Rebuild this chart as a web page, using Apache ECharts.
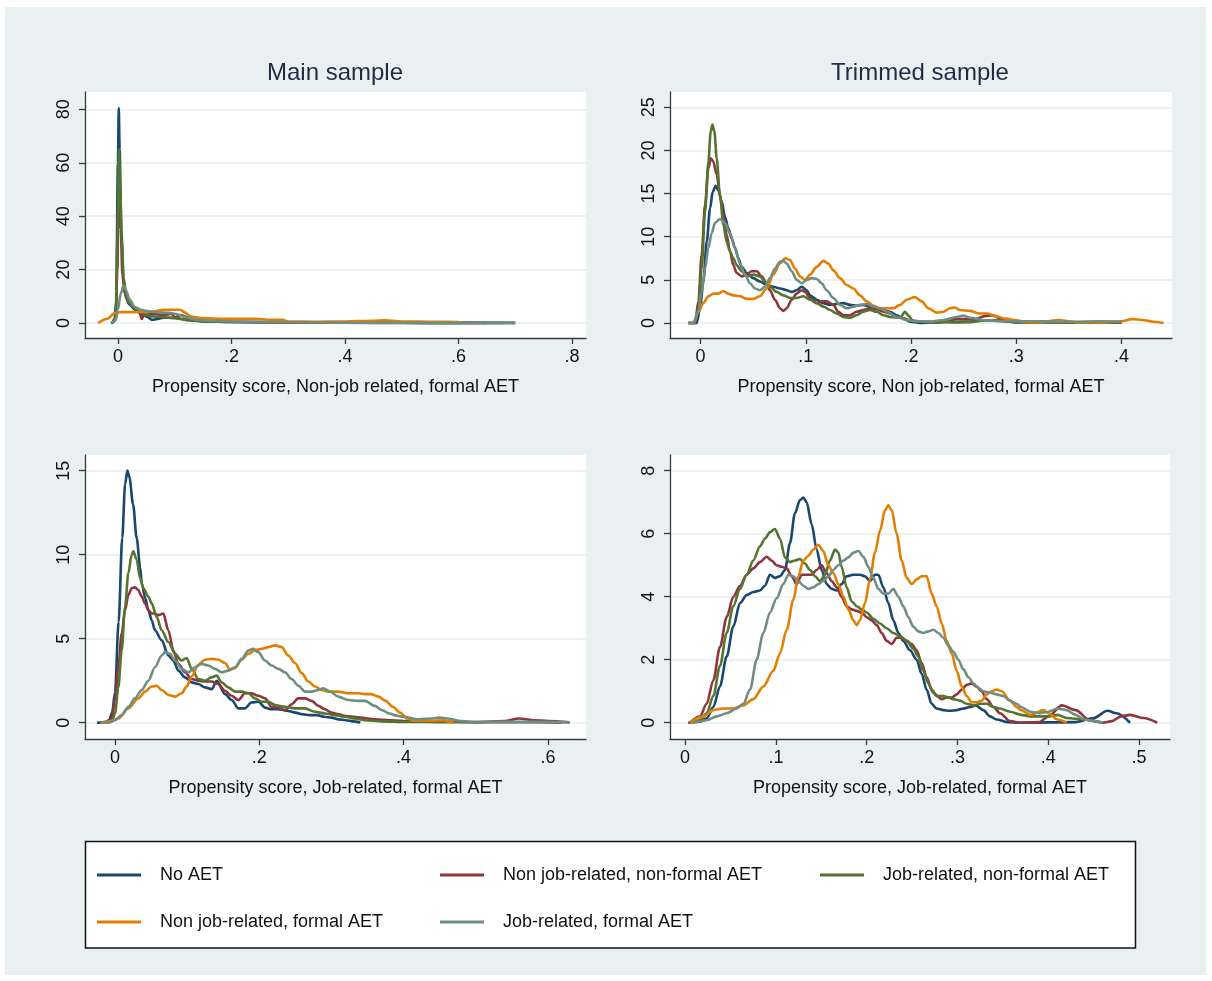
<!DOCTYPE html>
<html><head><meta charset="utf-8">
<script src="https://cdn.jsdelivr.net/npm/echarts@6/dist/echarts.min.js"></script>
<style>
html,body{margin:0;padding:0;background:#fff}
#bg{position:absolute;left:5px;top:7px;width:1201px;height:968px;background:#e9f0f2}
#c{position:absolute;left:0;top:0;width:1212px;height:981px}
</style>
</head><body><div id="bg"></div><div id="c"></div><script>
const seriesNames = ['No AET','Non job-related, non-formal AET','Job-related, non-formal AET','Non job-related, formal AET','Job-related, formal AET'];
const seriesColors = ['#1a476f','#90353b','#55752f','#e37e00','#6e8e84'];
const panelTitles = ['Main sample','Trimmed sample'];
const xAxisTitles = ['Propensity score, Non-job related, formal AET','Propensity score, Non job-related, formal AET','Propensity score, Job-related, formal AET','Propensity score, Job-related, formal AET'];
const xTicks = [[0,0.2,0.4,0.6,0.8],[0,0.1,0.2,0.3,0.4],[0,0.2,0.4,0.6],[0,0.1,0.2,0.3,0.4,0.5]];
const yTicks = [[0,20,40,60,80],[0,5,10,15,20,25],[0,5,10,15],[0,2,4,6,8]];
const xRanges = [[-0.058,0.8247],[-0.0291,0.4481],[-0.0416,0.6528],[-0.0166,0.534]];
const yRanges = [[-5.6,86.5],[-1.74,26.77],[-0.97,15.93],[-0.517,8.5]];

// Panel 1: Main sample, non-job related formal AET
const tlNoAET = [[-0.012,0],[-0.006,0.5],[-0.003,8],[0,60],[0.0015,80.5],[0.003,65],[0.006,35],[0.01,15],[0.015,9],[0.02,7],[0.03,5],[0.04,3.5],[0.05,2.5],[0.06,1.2],[0.07,1.5],[0.08,2],[0.1,2],[0.12,1.2],[0.15,0.6],[0.2,0.4],[0.3,0.2],[0.4,0.1],[0.5,0.05],[0.6,0.05],[0.7,0.05]];
const tlNonJobNonFormal = [[-0.01,0],[-0.004,2],[-0.001,20],[0.001,45],[0.003,48],[0.005,35],[0.008,18],[0.012,11],[0.02,7.5],[0.03,5.5],[0.038,4],[0.042,1.5],[0.046,3],[0.06,3.5],[0.08,3],[0.095,3.5],[0.1,2],[0.11,3],[0.13,1.5],[0.15,0.8],[0.2,0.4],[0.3,0.2],[0.4,0.1],[0.5,0.1],[0.6,0.05],[0.65,0]];
const tlJobNonFormal = [[-0.01,0],[-0.004,2],[-0.001,30],[0.002,65],[0.004,50],[0.007,30],[0.01,17],[0.015,10],[0.02,7.5],[0.03,5.5],[0.04,4],[0.05,3],[0.06,2.5],[0.08,2.2],[0.1,1.8],[0.12,1.2],[0.15,0.7],[0.2,0.5],[0.3,0.3],[0.4,0.15],[0.5,0.1],[0.6,0.05],[0.68,0]];
const tlNonJobFormal = [[-0.035,0],[-0.02,1.5],[-0.005,3.7],[0.004,4.1],[0.03,4.1],[0.06,4.2],[0.08,5],[0.11,5],[0.117,4],[0.129,2.4],[0.147,1.9],[0.18,1.6],[0.24,1.6],[0.27,1.2],[0.29,1.2],[0.3,0.6],[0.35,0.5],[0.4,0.6],[0.45,0.8],[0.47,1.0],[0.5,0.6],[0.55,0.5],[0.6,0.4],[0.61,0]];
const tlJobFormal = [[-0.01,0],[-0.004,1],[0,5],[0.005,11],[0.01,14],[0.015,12],[0.02,9],[0.03,6],[0.04,5],[0.05,4.5],[0.07,4],[0.09,3.8],[0.1,3.5],[0.12,2.2],[0.14,1.2],[0.17,0.8],[0.2,0.6],[0.3,0.3],[0.4,0.15],[0.5,0.1],[0.6,0.1],[0.7,0.05]];

// Panel 2: Trimmed sample, non-job related formal AET
const trNoAET = [[-0.012,0],[-0.0037,0],[-0.0005,1.7],[0.0026,4.8],[0.0058,9.4],[0.009,13.3],[0.0115,15.2],[0.0143,15.9],[0.0168,15.4],[0.02,14.1],[0.0232,12.3],[0.0263,11.0],[0.0295,9.8],[0.0327,8.7],[0.0359,7.5],[0.039,6.5],[0.0438,5.8],[0.0501,5.2],[0.0564,4.8],[0.0628,4.4],[0.0691,4.2],[0.0755,4.0],[0.0818,3.8],[0.0866,3.6],[0.0913,3.8],[0.0961,4.2],[0.1008,3.8],[0.104,3.2],[0.1103,2.7],[0.1167,2.3],[0.123,2.1],[0.1293,2.2],[0.1357,2.3],[0.142,2.1],[0.1483,2.0],[0.1547,2.1],[0.161,1.9],[0.1674,1.7],[0.1737,1.5],[0.18,1.3],[0.1864,0.9],[0.1927,0.55],[0.199,0.15],[0.2086,0.0],[0.2181,0.05],[0.2308,0.15],[0.2434,0.1],[0.2561,0.15],[0.27,0.3],[0.28,0.3],[0.3,0.1],[0.32,0.2],[0.35,0.05],[0.4,0.02]];
const trNonJobNonFormal = [[-0.012,0],[-0.0053,0],[-0.0021,2.5],[0.001,7.9],[0.0042,13.7],[0.0074,17.9],[0.0096,19.1],[0.0121,18.7],[0.0153,17.2],[0.0184,14.8],[0.0216,12.5],[0.0248,10.2],[0.0279,8.3],[0.0311,6.7],[0.0343,5.8],[0.039,5.4],[0.0438,5.6],[0.0485,6.0],[0.0533,6.0],[0.058,5.4],[0.0628,4.6],[0.0659,3.8],[0.0707,2.7],[0.0755,1.7],[0.0786,1.4],[0.0818,1.7],[0.0866,2.7],[0.0913,3.4],[0.0961,3.8],[0.0992,3.6],[0.104,2.9],[0.1103,2.3],[0.115,2.5],[0.1198,2.5],[0.1262,2.1],[0.1309,1.3],[0.1357,0.9],[0.142,0.9],[0.1483,1.3],[0.1547,1.5],[0.161,1.7],[0.1674,1.6],[0.1737,1.3],[0.18,1.1],[0.1864,0.7],[0.1927,0.55],[0.199,0.3],[0.2118,0.15],[0.2244,0.05],[0.2339,0.15],[0.2434,0.45],[0.2497,0.45],[0.26,0.4],[0.27,0.8],[0.278,0.9],[0.285,0.5],[0.3,0.1],[0.32,0.05],[0.35,0.05],[0.4,0.02]];
const trJobNonFormal = [[-0.01,0],[-0.0053,0],[-0.002,1.7],[0.001,6.3],[0.0042,12.9],[0.0074,18.7],[0.0096,22.2],[0.0112,23.0],[0.0131,22.2],[0.0153,19.1],[0.0184,14.8],[0.0216,11.4],[0.0248,9.4],[0.0279,8.3],[0.0311,7.5],[0.0343,6.7],[0.039,6.0],[0.0438,5.4],[0.0501,5.6],[0.0564,5.4],[0.0612,4.8],[0.0659,4.2],[0.0723,3.6],[0.0786,3.2],[0.085,2.9],[0.0913,2.9],[0.0976,3.1],[0.104,2.7],[0.1103,2.3],[0.1167,1.9],[0.123,1.5],[0.1293,1.1],[0.1357,0.7],[0.142,0.6],[0.1483,0.9],[0.1547,1.3],[0.161,1.5],[0.1674,1.3],[0.1737,0.9],[0.18,0.7],[0.1896,0.6],[0.1943,1.3],[0.1975,0.85],[0.2023,0.2],[0.2118,0.15],[0.2244,0.1],[0.24,0.1],[0.256,0.1],[0.27,0.3],[0.28,0.3],[0.3,0.1],[0.35,0.05],[0.4,0.05]];
const trNonJobFormal = [[-0.012,0],[-0.0069,0],[-0.002,1.3],[0.0026,2.3],[0.0074,3.1],[0.0121,3.4],[0.0168,3.4],[0.0216,3.7],[0.0263,3.4],[0.0311,3.2],[0.0374,3.1],[0.0438,2.8],[0.0501,2.8],[0.0564,3.1],[0.0628,4.0],[0.0691,5.6],[0.0755,6.9],[0.0802,7.5],[0.085,7.3],[0.0897,6.3],[0.0945,5.4],[0.0992,5.0],[0.104,5.6],[0.1103,6.5],[0.1167,7.2],[0.1214,6.9],[0.1262,6.1],[0.1325,5.2],[0.1389,4.4],[0.1452,4.0],[0.1515,3.2],[0.1579,2.5],[0.1642,2.0],[0.1706,1.7],[0.1769,1.7],[0.1832,1.7],[0.1896,2.1],[0.1959,2.7],[0.2038,3.0],[0.2102,2.5],[0.2165,1.7],[0.2244,1.2],[0.2308,1.3],[0.2371,1.7],[0.2418,1.8],[0.2466,1.5],[0.2561,1.4],[0.265,1.1],[0.272,1.1],[0.28,0.8],[0.29,0.5],[0.3,0.3],[0.31,0.1],[0.32,0.05],[0.33,0.2],[0.34,0.35],[0.35,0.2],[0.36,0.05],[0.38,0.05],[0.4,0.2],[0.41,0.45],[0.42,0.35],[0.43,0.15],[0.44,0]];
const trJobFormal = [[-0.012,0],[-0.0069,0],[-0.0021,1.3],[0.001,3.6],[0.0042,6.3],[0.0074,8.7],[0.0105,10.4],[0.0137,11.6],[0.0184,12.06],[0.0232,11.6],[0.0279,10.4],[0.0327,8.7],[0.0374,6.9],[0.0422,5.6],[0.0469,4.6],[0.0517,4.0],[0.0564,3.8],[0.0612,4.2],[0.0659,5.2],[0.0707,6.3],[0.0755,7.1],[0.0786,7.2],[0.0818,6.9],[0.0866,6.0],[0.0913,5.0],[0.0961,4.6],[0.1008,5.0],[0.1056,5.2],[0.1103,5.1],[0.115,4.6],[0.1198,3.8],[0.1262,2.9],[0.1325,2.1],[0.1389,1.7],[0.1452,1.9],[0.1515,2.1],[0.1579,2.2],[0.1642,1.9],[0.1706,1.7],[0.1769,1.3],[0.1864,0.7],[0.1959,0.35],[0.2054,0.2],[0.2181,0.15],[0.2308,0.35],[0.2434,0.7],[0.2497,0.85],[0.2561,0.6],[0.27,0.3],[0.29,0.2],[0.32,0.2],[0.35,0.15],[0.38,0.2],[0.4,0.15]];

// Panel 3: Main sample, job-related formal AET
const blNoAET = [[-0.025,0],[-0.015,0.02],[-0.008,0.15],[-0.004,0.6],[0,1.8],[0.005,6],[0.01,11],[0.014,14.2],[0.0171,15.0],[0.02,14.6],[0.025,13],[0.03,11],[0.035,9.2],[0.037,8.3],[0.042,7.4],[0.0462,6.7],[0.0508,6.1],[0.0554,5.5],[0.0647,4.9],[0.0739,4.0],[0.0809,3.7],[0.0878,3.1],[0.097,2.7],[0.1063,2.4],[0.1155,2.3],[0.1247,2.1],[0.134,2.0],[0.141,2.5],[0.1525,1.7],[0.1617,1.35],[0.171,0.85],[0.18,0.85],[0.189,1.2],[0.1987,1.25],[0.208,0.9],[0.217,0.8],[0.226,0.8],[0.24,0.7],[0.25,0.6],[0.26,0.5],[0.27,0.45],[0.28,0.45],[0.29,0.35],[0.3,0.3],[0.31,0.2],[0.32,0.15],[0.33,0.08],[0.34,0.02]];
const blNonJobNonFormal = [[-0.02,0],[-0.01,0.05],[-0.0046,0.25],[0,1.35],[0.0046,3.3],[0.0092,5.3],[0.0139,6.7],[0.0185,7.6],[0.0231,8.0],[0.0277,8.05],[0.0323,7.9],[0.037,7.5],[0.0416,7.1],[0.0462,6.7],[0.0508,6.5],[0.0554,6.5],[0.06,6.4],[0.067,6.5],[0.0739,5.5],[0.0809,4.3],[0.0878,3.5],[0.097,3.0],[0.1063,2.6],[0.1155,2.5],[0.1247,2.45],[0.134,2.45],[0.1432,2.3],[0.1525,1.9],[0.1617,1.6],[0.171,1.35],[0.18,1.75],[0.189,1.75],[0.1987,1.6],[0.208,1.45],[0.217,0.95],[0.226,0.9],[0.2356,0.75],[0.2449,1.1],[0.254,1.45],[0.263,1.45],[0.2726,1.3],[0.2818,1.0],[0.291,0.8],[0.3,0.6],[0.31,0.5],[0.32,0.4],[0.34,0.3],[0.36,0.2],[0.38,0.15],[0.4,0.1],[0.45,0.05],[0.5,0.03],[0.54,0.1],[0.56,0.25],[0.58,0.15],[0.6,0.1],[0.63,0.02]];
const blJobNonFormal = [[-0.02,0],[-0.0046,0.05],[0,0.55],[0.0046,2.1],[0.0092,4.3],[0.0139,6.9],[0.0185,8.9],[0.0231,10.0],[0.0254,10.2],[0.03,9.7],[0.0347,8.6],[0.0393,8.0],[0.0462,7.5],[0.0508,7.1],[0.0577,6.3],[0.0647,5.5],[0.0739,4.8],[0.0832,4.1],[0.0924,3.7],[0.0993,3.85],[0.1063,3.2],[0.1155,2.6],[0.1247,2.5],[0.134,2.7],[0.1409,2.8],[0.1478,2.4],[0.157,2.1],[0.1663,1.85],[0.1756,1.85],[0.1848,1.75],[0.194,1.45],[0.2033,1.25],[0.2125,1.25],[0.2218,1.05],[0.2356,0.95],[0.2495,0.85],[0.2633,0.85],[0.2772,0.65],[0.291,0.55],[0.3049,0.45],[0.3188,0.35],[0.3326,0.25],[0.3465,0.15],[0.37,0.08],[0.4,0.05],[0.45,0.05],[0.5,0.03],[0.55,0.03],[0.6,0.02],[0.62,0]];
const blNonJobFormal = [[-0.02,0],[-0.005,0.1],[0.0046,0.25],[0.0185,0.85],[0.0323,1.45],[0.0416,1.85],[0.0508,2.15],[0.0577,2.2],[0.0647,1.95],[0.0739,1.65],[0.0832,1.55],[0.0924,1.75],[0.0993,2.15],[0.1063,2.75],[0.1155,3.45],[0.1247,3.75],[0.134,3.8],[0.1432,3.75],[0.1525,3.55],[0.1594,3.15],[0.1663,3.25],[0.1756,3.75],[0.1848,4.1],[0.194,4.3],[0.2033,4.4],[0.2125,4.5],[0.2218,4.6],[0.231,4.5],[0.2402,4.0],[0.2495,3.55],[0.2587,2.95],[0.268,2.45],[0.2772,2.15],[0.2864,1.95],[0.2957,1.85],[0.3095,1.85],[0.3234,1.75],[0.3373,1.75],[0.3465,1.7],[0.355,1.7],[0.365,1.55],[0.375,1.3],[0.385,0.95],[0.395,0.6],[0.405,0.25],[0.415,0.12],[0.44,0.12],[0.455,0.15],[0.465,0.05],[0.47,0]];
const blJobFormal = [[-0.02,0],[-0.0092,0.0],[0,0.15],[0.0092,0.45],[0.0185,0.95],[0.0277,1.45],[0.037,1.95],[0.0462,2.5],[0.0554,3.3],[0.0647,4.0],[0.0693,4.2],[0.0762,4.1],[0.0832,3.7],[0.0924,3.2],[0.1017,3.0],[0.1109,3.3],[0.1201,3.5],[0.1294,3.4],[0.1386,3.2],[0.1478,3.0],[0.157,3.1],[0.1663,3.3],[0.1756,3.8],[0.1848,4.3],[0.1917,4.4],[0.1987,4.2],[0.2079,3.7],[0.2171,3.4],[0.2264,3.2],[0.2356,3.0],[0.2449,2.6],[0.2541,2.2],[0.2633,1.85],[0.2726,1.85],[0.2818,1.95],[0.2887,2.05],[0.298,1.85],[0.3095,1.55],[0.3234,1.35],[0.3373,1.3],[0.3465,1.3],[0.36,1.0],[0.37,0.75],[0.38,0.55],[0.39,0.42],[0.4,0.35],[0.42,0.2],[0.44,0.25],[0.45,0.3],[0.46,0.25],[0.48,0.1],[0.5,0.05],[0.55,0.05],[0.6,0.05],[0.63,0.02]];

// Panel 4: Trimmed sample, job-related formal AET
const brNoAET = [[0.0036,0],[0.0164,0.03],[0.0238,0.14],[0.0311,0.5],[0.0384,1.15],[0.0458,2.1],[0.0531,3.05],[0.0605,3.8],[0.0678,4.05],[0.0751,4.15],[0.0825,4.2],[0.088,4.35],[0.0935,4.7],[0.099,4.6],[0.1045,4.65],[0.11,4.85],[0.1155,5.7],[0.121,6.65],[0.1265,7.07],[0.1302,7.15],[0.1339,7.0],[0.1394,6.3],[0.1449,5.5],[0.1504,4.85],[0.1559,4.4],[0.1614,4.25],[0.1669,4.2],[0.1724,4.4],[0.1779,4.65],[0.1853,4.7],[0.1926,4.7],[0.1981,4.65],[0.2036,4.5],[0.2091,4.7],[0.2128,4.7],[0.2183,4.3],[0.2238,3.8],[0.2293,3.25],[0.2349,2.85],[0.2403,2.6],[0.2477,2.3],[0.255,2.0],[0.2605,1.55],[0.266,1.05],[0.2715,0.6],[0.277,0.45],[0.2844,0.4],[0.2917,0.38],[0.2991,0.4],[0.3064,0.45],[0.3138,0.5],[0.32,0.55],[0.3285,0.4],[0.3358,0.2],[0.3431,0.1],[0.355,0.02],[0.37,0],[0.43,0.02],[0.45,0.15],[0.465,0.38],[0.475,0.3],[0.49,0]];
const brNonJobNonFormal = [[0.0054,0],[0.0164,0.2],[0.0238,0.6],[0.0311,1.35],[0.0384,2.4],[0.0458,3.35],[0.0531,4.0],[0.0605,4.35],[0.0678,4.7],[0.0751,4.9],[0.0825,5.1],[0.0898,5.27],[0.0953,5.15],[0.1008,5.0],[0.1063,4.95],[0.1119,4.9],[0.1174,4.65],[0.1229,4.4],[0.1284,4.7],[0.1339,4.7],[0.1394,4.7],[0.1449,4.85],[0.1504,5.0],[0.1559,4.75],[0.1614,4.5],[0.1669,4.3],[0.1724,4.0],[0.1779,3.7],[0.1835,3.6],[0.189,3.55],[0.1945,3.5],[0.2,3.35],[0.2055,3.25],[0.211,3.1],[0.2165,2.85],[0.222,2.6],[0.2275,2.5],[0.233,2.7],[0.2385,2.7],[0.244,2.6],[0.2495,2.5],[0.255,2.3],[0.2605,1.9],[0.266,1.45],[0.2715,1.05],[0.277,0.85],[0.2826,0.75],[0.2881,0.8],[0.2936,0.8],[0.2991,0.9],[0.3046,1.05],[0.3101,1.2],[0.3156,1.25],[0.3211,1.15],[0.3266,1.0],[0.3321,0.75],[0.3395,0.5],[0.3468,0.3],[0.3578,0.05],[0.37,0],[0.39,0.02],[0.4,0.2],[0.415,0.55],[0.43,0.4],[0.445,0.1],[0.46,0],[0.47,0.05],[0.48,0.2],[0.49,0.25],[0.505,0.15],[0.52,0]];
const brJobNonFormal = [[0.0054,0],[0.0164,0.08],[0.0238,0.3],[0.0311,0.85],[0.0384,1.8],[0.0458,2.85],[0.0531,3.7],[0.0605,4.25],[0.0678,4.7],[0.0751,5.15],[0.0825,5.6],[0.088,5.85],[0.0935,6.05],[0.099,6.15],[0.1045,5.85],[0.11,5.25],[0.1155,5.1],[0.121,5.15],[0.1265,5.2],[0.132,5.05],[0.1376,4.85],[0.1431,4.65],[0.1486,4.5],[0.1541,4.7],[0.1596,5.15],[0.1651,5.5],[0.1688,5.4],[0.1724,4.95],[0.1779,4.3],[0.1835,3.85],[0.189,3.7],[0.1945,3.6],[0.2,3.5],[0.2073,3.3],[0.2147,3.15],[0.222,3.0],[0.2293,2.85],[0.2367,2.75],[0.244,2.6],[0.2514,2.35],[0.2568,2.1],[0.2623,1.65],[0.2679,1.25],[0.2734,0.95],[0.2789,0.85],[0.2844,0.85],[0.2899,0.8],[0.2954,0.75],[0.3028,0.7],[0.3101,0.6],[0.3175,0.55],[0.3248,0.6],[0.3321,0.6],[0.3395,0.5],[0.3468,0.45],[0.3578,0.35],[0.37,0.25],[0.38,0.2],[0.4,0.2],[0.41,0.25],[0.42,0.15],[0.44,0.1],[0.45,0.05],[0.46,0]];
const brNonJobFormal = [[0.0054,0],[0.0201,0.2],[0.0311,0.4],[0.0421,0.45],[0.0531,0.45],[0.0641,0.55],[0.0751,0.75],[0.0862,1.15],[0.0972,1.65],[0.1045,2.2],[0.1119,2.95],[0.1192,3.9],[0.1247,4.65],[0.1302,5.15],[0.1357,5.3],[0.1412,5.5],[0.1467,5.65],[0.1522,5.45],[0.1578,5.0],[0.1633,4.75],[0.1688,4.4],[0.1743,4.0],[0.1798,3.6],[0.1853,3.25],[0.189,3.1],[0.1926,3.25],[0.1981,3.8],[0.2036,4.55],[0.2091,5.4],[0.2147,6.1],[0.2202,6.75],[0.2238,6.9],[0.2275,6.75],[0.233,6.0],[0.2385,5.15],[0.244,4.6],[0.2495,4.4],[0.255,4.55],[0.2605,4.65],[0.266,4.65],[0.2715,4.1],[0.277,3.7],[0.2826,3.15],[0.2881,2.6],[0.2936,2.2],[0.2991,1.65],[0.3046,1.15],[0.3101,0.85],[0.3156,0.65],[0.3211,0.65],[0.3266,0.7],[0.3321,0.9],[0.3376,1.0],[0.3431,1.05],[0.3486,1.0],[0.3578,0.7],[0.365,0.5],[0.37,0.4],[0.38,0.25],[0.395,0.4],[0.4,0.3],[0.41,0.1],[0.42,0]];
const brJobFormal = [[0.0091,0],[0.0238,0.08],[0.0348,0.2],[0.0458,0.3],[0.0568,0.45],[0.0641,0.6],[0.0715,1.05],[0.0788,2.0],[0.0862,2.85],[0.0935,3.5],[0.1008,3.95],[0.1082,4.4],[0.1137,4.7],[0.1192,4.65],[0.1247,4.5],[0.1302,4.35],[0.1357,4.25],[0.1412,4.3],[0.1467,4.4],[0.1522,4.5],[0.1578,4.65],[0.1633,4.85],[0.1688,5.0],[0.1743,5.15],[0.1798,5.25],[0.1853,5.4],[0.1908,5.45],[0.1963,5.27],[0.2018,4.95],[0.2073,4.6],[0.2128,4.25],[0.2183,4.1],[0.2238,4.1],[0.2293,4.25],[0.2349,4.0],[0.2403,3.7],[0.2459,3.35],[0.2514,3.05],[0.2568,2.9],[0.2623,2.85],[0.2679,2.9],[0.2734,2.95],[0.2789,2.85],[0.2844,2.7],[0.2899,2.45],[0.2954,2.25],[0.3009,2.0],[0.3064,1.7],[0.3119,1.45],[0.3175,1.25],[0.323,1.1],[0.3285,1.0],[0.3358,0.95],[0.3431,0.9],[0.3505,0.85],[0.3578,0.7],[0.365,0.6],[0.37,0.5],[0.38,0.35],[0.39,0.3],[0.4,0.35],[0.41,0.45],[0.42,0.4],[0.43,0.25],[0.44,0.1],[0.45,0.05],[0.46,0]];

const panels = [
  [tlNoAET, tlNonJobNonFormal, tlJobNonFormal, tlNonJobFormal, tlJobFormal],
  [trNoAET, trNonJobNonFormal, trJobNonFormal, trNonJobFormal, trJobFormal],
  [blNoAET, blNonJobNonFormal, blJobNonFormal, blNonJobFormal, blJobFormal],
  [brNoAET, brNonJobNonFormal, brJobNonFormal, brNonJobFormal, brJobFormal]
];

const FONT = '"Liberation Sans", Arial, Helvetica, sans-serif';
const gridBoxes = [
  {left: 85, top: 92, width: 501, height: 246},
  {left: 670, top: 92, width: 502, height: 246},
  {left: 85, top: 455, width: 501, height: 284},
  {left: 670, top: 455, width: 500, height: 284}
];
const AXIS_COLOR = '#3a3a3a';
function fmtX(v) {
  if (Math.abs(v) < 1e-9) return '0';
  return String(Math.round(v * 10) / 10).replace(/^0\./, '.');
}

const grids = gridBoxes.map(g => Object.assign({
  show: true, backgroundColor: '#ffffff', borderWidth: 0, containLabel: false, outerBoundsMode: 'none'
}, g));

const xAxes = xTicks.map((ticks, p) => ({
  type: 'value', gridIndex: p, min: xRanges[p][0], max: xRanges[p][1],
  axisLine: {show: true, onZero: false, lineStyle: {color: AXIS_COLOR, width: 1.3}},
  axisTick: {show: true, customValues: ticks, length: 6, lineStyle: {color: AXIS_COLOR, width: 1.3}},
  axisLabel: {customValues: ticks, formatter: fmtX, fontSize: 18, color: '#111', fontFamily: FONT, margin: 10},
  splitLine: {show: false},
  name: xAxisTitles[p], nameLocation: 'middle', nameGap: 40,
  nameTextStyle: {fontSize: 18, color: '#111', fontFamily: FONT}
}));

const yAxes = yTicks.map((ticks, p) => ({
  type: 'value', gridIndex: p, min: yRanges[p][0], max: yRanges[p][1],
  axisLine: {show: true, onZero: false, lineStyle: {color: AXIS_COLOR, width: 1.3}},
  axisTick: {show: true, customValues: ticks, length: 6, lineStyle: {color: AXIS_COLOR, width: 1.3}},
  axisLabel: {customValues: ticks, rotate: 90, fontSize: 18, color: '#111', fontFamily: FONT, margin: 12},
  splitLine: {show: true, lineStyle: {color: '#e7ecee', width: 1.5}}
}));

const series = [];
panels.forEach((sets, p) => {
  sets.forEach((data, s) => {
    series.push({
      type: 'line', name: seriesNames[s], xAxisIndex: p, yAxisIndex: p, data: data,
      symbol: 'none', showSymbol: false, smooth: 0.3, smoothMonotone: 'x', clip: true,
      lineStyle: {color: seriesColors[s], width: 2.6}, itemStyle: {color: seriesColors[s]},
      emphasis: {disabled: true}, silent: true
    });
  });
});

const legendPos = [
  {left: 97, top: 866}, {left: 440, top: 866}, {left: 820, top: 866},
  {left: 97, top: 913}, {left: 440, top: 913}
];
const legends = seriesNames.map((n, i) => ({
  show: true, data: [n], left: legendPos[i].left, top: legendPos[i].top, padding: 0,
  icon: 'rect', itemWidth: 44, itemHeight: 3, selectedMode: false,
  itemStyle: {color: seriesColors[i]},
  textStyle: {fontSize: 18, color: '#111', fontFamily: FONT, padding: [0, 0, 0, 14]}
}));

const option = {
  animation: false,
  backgroundColor: 'transparent',
  textStyle: {fontFamily: FONT},
  title: [
    {text: panelTitles[0], left: 335, top: 61, textAlign: 'center', padding: 0,
     textStyle: {fontSize: 24, fontWeight: 'normal', color: '#1e2b45', fontFamily: FONT}},
    {text: panelTitles[1], left: 920, top: 61, textAlign: 'center', padding: 0,
     textStyle: {fontSize: 24, fontWeight: 'normal', color: '#1e2b45', fontFamily: FONT}}
  ],
  grid: grids,
  xAxis: xAxes,
  yAxis: yAxes,
  legend: legends,
  graphic: [{
    type: 'rect', z: 0, silent: true,
    shape: {x: 85.5, y: 841.5, width: 1050, height: 106.5},
    style: {fill: '#ffffff', stroke: '#111', lineWidth: 1.5}
  }],
  series: series
};

const chart = echarts.init(document.getElementById('c'), null, {renderer: 'canvas'});
chart.setOption(option);
</script></body></html>
